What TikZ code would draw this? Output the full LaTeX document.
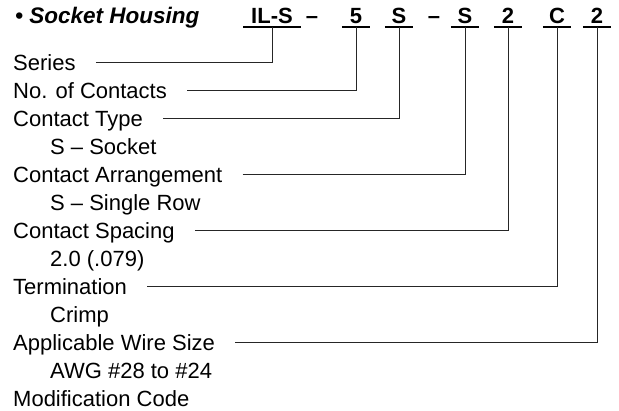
\documentclass[tikz,border=0pt]{standalone}
\usepackage{fontspec}
\setmainfont{Liberation Sans}
\usetikzlibrary{positioning,calc}

\begin{document}
\begin{tikzpicture}[
    x=1pt, y=-1pt,
    label/.style={anchor=base west, inner sep=0pt, font=\fontsize{22}{26}\selectfont},
    code/.style={anchor=base, inner xsep=0pt, inner ysep=4pt, text depth=0pt, minimum width=28pt, font=\fontsize{22}{26}\selectfont\bfseries},
    uline/.style={line width=2pt},
    conn/.style={line width=1pt, black!85}
]
    \useasboundingbox (0,0) rectangle (619,410);

    % heading and part number
    \node[anchor=base west, inner sep=0pt, font=\fontsize{22.5}{26}\selectfont\bfseries\itshape] (title) at (15,23) {• Socket Housing};
    \node[code, minimum width=57pt] (series) at (272,23) {IL-S};
    \node[code, minimum width=10pt] (dashA) at (312,23) {–};
    \node[code] (contacts) at (356,23) {5};
    \node[code] (ctype) at (399,23) {S};
    \node[code, minimum width=10pt] (dashB) at (434,23) {–};
    \node[code] (arrange) at (465,23) {S};
    \node[code] (spacing) at (508,23) {2};
    \node[code] (term) at (557,23) {C};
    \node[code] (wire) at (597,23) {2};

    \foreach \n in {series,contacts,ctype,arrange,spacing,term,wire}
        \draw[uline] (\n.south west) -- (\n.south east);

    % descriptions
    \node[label] (lseries) at (13,70) {Series};
    \node[label] (lcontacts) at (13,98) {No. of Contacts};
    \node[label] (lctype) at (13,126) {Contact Type};
    \node[label] (socket) at (50,154) {S – Socket};
    \node[label] (larrange) at (13,182) {Contact Arrangement};
    \node[label] (single) at (50,210) {S – Single Row};
    \node[label] (lspacing) at (13,238) {Contact Spacing};
    \node[label] (pitch) at (50,266) {2.0 (.079)};
    \node[label] (lterm) at (13,294) {Termination};
    \node[label] (crimp) at (50,322) {Crimp};
    \node[label] (lwire) at (13,350) {Applicable Wire Size};
    \node[label] (awg) at (50,378) {AWG \#28 to \#24};
    \node[label] (lmod) at (13,406) {Modification Code};

    % leaders
    \draw[conn] ([xshift=20pt,yshift=7.5pt]lseries.base east) -| (series.south);
    \draw[conn] ([xshift=20pt,yshift=7.5pt]lcontacts.base east) -| (contacts.south);
    \draw[conn] ([xshift=20pt,yshift=7.5pt]lctype.base east) -| (ctype.south);
    \draw[conn] ([xshift=20pt,yshift=7.5pt]larrange.base east) -| (arrange.south);
    \draw[conn] ([xshift=20pt,yshift=7.5pt]lspacing.base east) -| (spacing.south);
    \draw[conn] ([xshift=20pt,yshift=7.5pt]lterm.base east) -| (term.south);
    \draw[conn] ([xshift=20pt,yshift=7.5pt]lwire.base east) -| (wire.south);
\end{tikzpicture}
\end{document}
